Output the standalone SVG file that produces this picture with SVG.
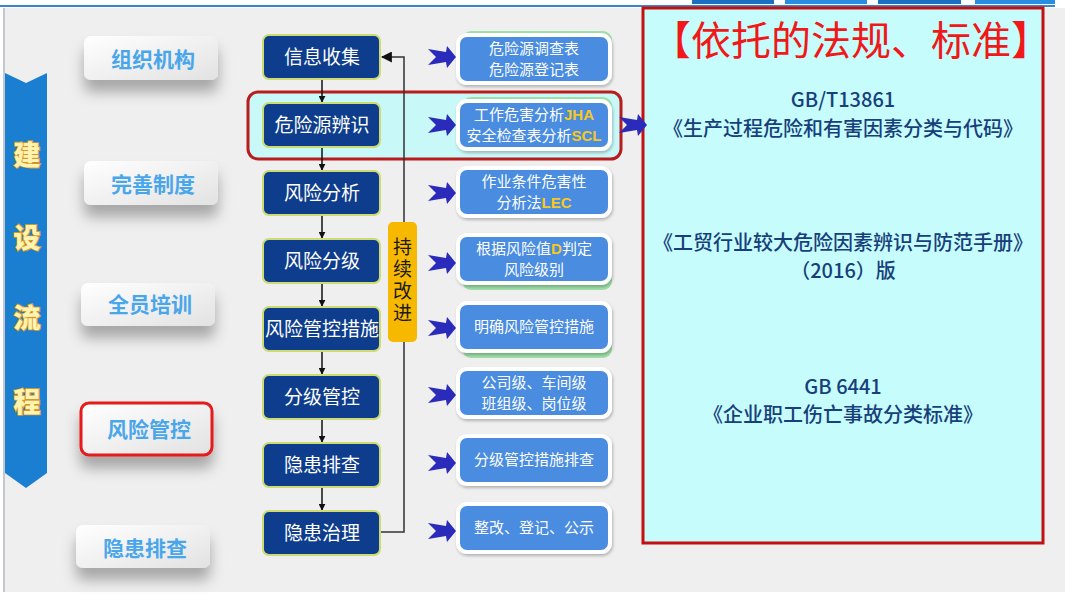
<svg xmlns="http://www.w3.org/2000/svg" width="1080" height="608" viewBox="0 0 1080 608">
<defs>
<style>
.lbtn{font-family:"Noto Sans CJK SC",sans-serif;font-weight:bold;font-size:21px;fill:#4aa6ea;text-anchor:middle}
.ban{font-family:"Noto Sans CJK SC",sans-serif;font-weight:900;font-size:27px;fill:#fff3b0;stroke:#d8962a;stroke-width:1.8;paint-order:stroke;text-anchor:middle}
.mbox{fill:#0d3d8c;stroke:#cddb72;stroke-width:2}
.mtxt{font-family:"Noto Sans CJK SC",sans-serif;font-size:19px;fill:#ffffff;text-anchor:middle}
.rbox{fill:#4a8ce0;stroke:#ffffff;stroke-width:4}
.rtxt{font-family:"Noto Sans CJK SC",sans-serif;font-size:15px;fill:#ffffff;text-anchor:middle}
.gold{fill:#f8c81c;font-family:"Liberation Sans",sans-serif;font-weight:bold}
.ptxt{font-family:"Noto Sans CJK SC",sans-serif;font-weight:500;font-size:20px;fill:#173f7a;text-anchor:middle}
.conn{stroke:#111;stroke-width:1.5;fill:none}
.chev{fill:#2b2bbb}
</style>
<linearGradient id="btnG" x1="0" y1="0" x2="1" y2="1">
<stop offset="0" stop-color="#ffffff"/>
<stop offset="1" stop-color="#e2e2e2"/>
</linearGradient>
<filter id="sh" x="-30%" y="-30%" width="160%" height="220%">
<feDropShadow dx="0" dy="12" stdDeviation="7" flood-color="#000" flood-opacity="0.3"/>
</filter>
<filter id="sh2" x="-10%" y="-10%" width="120%" height="130%">
<feDropShadow dx="1" dy="2" stdDeviation="1.5" flood-color="#000" flood-opacity="0.25"/>
</filter>
<marker id="ah" viewBox="0 0 10 10" refX="9" refY="5" markerWidth="7" markerHeight="7" orient="auto" markerUnits="userSpaceOnUse">
<path d="M0,0 L10,5 L0,10 Z" fill="#111"/>
</marker>
<marker id="ah2" viewBox="0 0 10 10" refX="9" refY="5" markerWidth="11" markerHeight="11" orient="auto" markerUnits="userSpaceOnUse">
<path d="M0,0 L10,5 L0,10 Z" fill="#111"/>
</marker>
<path id="chv" d="M0,-8 L18,-5 L19,-11 L28,0 L19,11 L18,5 L0,8 L8,0 Z"/>
</defs>

<rect x="0" y="0" width="1080" height="608" fill="#ffffff"/>
<rect x="5" y="8" width="1060" height="584" fill="#efefef"/>
<rect x="3" y="8" width="2" height="584" fill="#c4c6d0"/>
<rect x="0" y="5" width="1055" height="2" fill="#3a86c8"/>
<g fill="#1a6fc0">
<rect x="692" y="0" width="82" height="4"/>
<rect x="785" y="0" width="82" height="4" fill="#2a8ee0"/>
<rect x="878" y="0" width="83" height="4"/>
<rect x="975" y="0" width="80" height="4" fill="#2a8ee0"/>
</g>

<!-- left banner -->
<g id="banner">
<path d="M5,73 L26,83 L47,73 L47,473 L26,488 L5,473 Z" fill="#1a7fd0"/>
<text class="ban" x="27" y="165">建</text>
<text class="ban" x="27" y="248">设</text>
<text class="ban" x="27" y="328">流</text>
<text class="ban" x="27" y="412">程</text>
</g>

<!-- left buttons -->
<g id="btn-zzjg"><rect x="84" y="36" width="134" height="44" rx="7" fill="url(#btnG)" filter="url(#sh)"/><text class="lbtn" x="153" y="67">组织机构</text></g>
<g id="btn-wszd"><rect x="84" y="161" width="134" height="44" rx="7" fill="url(#btnG)" filter="url(#sh)"/><text class="lbtn" x="153" y="192">完善制度</text></g>
<g id="btn-qypx"><rect x="81" y="283" width="134" height="43" rx="7" fill="url(#btnG)" filter="url(#sh)"/><text class="lbtn" x="150" y="312">全员培训</text></g>
<g id="btn-fxgk"><rect x="81" y="403" width="131" height="52" rx="8" fill="url(#btnG)" stroke="#e41a1a" stroke-width="3" filter="url(#sh)"/><text class="lbtn" x="149" y="437">风险管控</text></g>
<g id="btn-yhpc"><rect x="76" y="525" width="134" height="43" rx="7" fill="url(#btnG)" filter="url(#sh)"/><text class="lbtn" x="145" y="556">隐患排查</text></g>

<!-- highlight row -->
<g id="highlight">
<rect x="248" y="92" width="373" height="67" rx="10" fill="#c8f8f8" stroke="#b81c1c" stroke-width="3"/>
</g>

<!-- right panel -->
<g id="panel">
<rect x="643" y="8" width="400" height="535" fill="#c6fcfc" stroke="#c41010" stroke-width="3"/>
<text x="851" y="55" font-family="Noto Sans CJK SC, sans-serif" font-size="40" fill="#f01818" text-anchor="middle">【依托的法规、标准】</text>
<text class="ptxt" x="843" y="107">GB/T13861</text>
<text class="ptxt" x="843" y="136">《生产过程危险和有害因素分类与代码》</text>
<text class="ptxt" x="843" y="250">《工贸行业较大危险因素辨识与防范手册》</text>
<text class="ptxt" x="843" y="278">（2016）版</text>
<text class="ptxt" x="843" y="394">GB 6441</text>
<text class="ptxt" x="843" y="422">《企业职工伤亡事故分类标准》</text>
</g>

<!-- connectors -->
<g id="connectors">
<line class="conn" x1="322" y1="79" x2="322" y2="102" marker-end="url(#ah)"/>
<line class="conn" x1="322" y1="147" x2="322" y2="170" marker-end="url(#ah)"/>
<line class="conn" x1="322" y1="215" x2="322" y2="238" marker-end="url(#ah)"/>
<line class="conn" x1="322" y1="283" x2="322" y2="306" marker-end="url(#ah)"/>
<line class="conn" x1="322" y1="351" x2="322" y2="374" marker-end="url(#ah)"/>
<line class="conn" x1="322" y1="419" x2="322" y2="442" marker-end="url(#ah)"/>
<line class="conn" x1="322" y1="487" x2="322" y2="510" marker-end="url(#ah)"/>
<polyline points="381,532 404,532 404,57 382,57" stroke="#333" stroke-width="1.5" fill="none" marker-end="url(#ah2)"/>
<g class="chev">
<use href="#chv" x="428" y="57"/>
<use href="#chv" x="428" y="125"/>
<use href="#chv" x="428" y="193"/>
<use href="#chv" x="428" y="263"/>
<use href="#chv" x="428" y="328"/>
<use href="#chv" x="428" y="395"/>
<use href="#chv" x="428" y="463"/>
<use href="#chv" x="428" y="531"/>
<use href="#chv" x="619" y="125"/>
</g>
</g>

<!-- continuous improvement -->
<g id="cxgj">
<rect x="388" y="222" width="29" height="120" rx="5" fill="#f7b800"/>
<text x="402.5" y="237" font-family="Noto Sans CJK SC, sans-serif" font-size="19" fill="#1a1a1a" writing-mode="vertical-rl" letter-spacing="3" style="writing-mode:vertical-rl">持续改进</text>
</g>

<!-- middle process boxes -->
<g id="m1"><rect class="mbox" x="263" y="35" width="117" height="44" rx="6"/><text class="mtxt" x="322" y="64">信息收集</text></g>
<g id="m2"><rect class="mbox" x="263" y="103" width="117" height="44" rx="6"/><text class="mtxt" x="322" y="132">危险源辨识</text></g>
<g id="m3"><rect class="mbox" x="263" y="171" width="117" height="44" rx="6"/><text class="mtxt" x="322" y="200">风险分析</text></g>
<g id="m4"><rect class="mbox" x="263" y="239" width="117" height="44" rx="6"/><text class="mtxt" x="322" y="268">风险分级</text></g>
<g id="m5"><rect class="mbox" x="263" y="307" width="117" height="44" rx="6"/><text class="mtxt" x="322" y="336">风险管控措施</text></g>
<g id="m6"><rect class="mbox" x="263" y="375" width="117" height="44" rx="6"/><text class="mtxt" x="322" y="404">分级管控</text></g>
<g id="m7"><rect class="mbox" x="263" y="443" width="117" height="44" rx="6"/><text class="mtxt" x="322" y="472">隐患排查</text></g>
<g id="m8"><rect class="mbox" x="263" y="511" width="117" height="44" rx="6"/><text class="mtxt" x="322" y="540">隐患治理</text></g>

<!-- right description boxes -->
<g id="r1"><rect x="462" y="31" width="150" height="50" rx="9" fill="#9ee0a8"/><rect class="rbox" x="458" y="35" width="152" height="48" rx="9" filter="url(#sh2)"/><text class="rtxt" x="534" y="54">危险源调查表</text><text class="rtxt" x="534" y="75">危险源登记表</text></g>
<g id="r2"><rect x="462" y="97" width="150" height="50" rx="9" fill="#9ee0a8"/><rect class="rbox" x="458" y="101" width="152" height="48" rx="9" filter="url(#sh2)"/><text class="rtxt" x="534" y="120">工作危害分析<tspan class="gold">JHA</tspan></text><text class="rtxt" x="534" y="141">安全检查表分析<tspan class="gold">SCL</tspan></text></g>
<g id="r3"><rect class="rbox" x="458" y="168" width="152" height="48" rx="9" filter="url(#sh2)"/><text class="rtxt" x="534" y="187">作业条件危害性</text><text class="rtxt" x="534" y="208">分析法<tspan class="gold">LEC</tspan></text></g>
<g id="r4"><rect x="462" y="240" width="150" height="50" rx="9" fill="#9ee0a8"/><rect class="rbox" x="458" y="235" width="152" height="48" rx="9" filter="url(#sh2)"/><text class="rtxt" x="534" y="254">根据风险值<tspan class="gold">D</tspan>判定</text><text class="rtxt" x="534" y="275">风险级别</text></g>
<g id="r5"><rect x="462" y="308" width="150" height="50" rx="9" fill="#9ee0a8"/><rect class="rbox" x="458" y="303" width="152" height="48" rx="9" filter="url(#sh2)"/><text class="rtxt" x="534" y="332">明确风险管控措施</text></g>
<g id="r6"><rect class="rbox" x="458" y="369" width="152" height="48" rx="9" filter="url(#sh2)"/><text class="rtxt" x="534" y="388">公司级、车间级</text><text class="rtxt" x="534" y="409">班组级、岗位级</text></g>
<g id="r7"><rect class="rbox" x="458" y="436" width="152" height="48" rx="9" filter="url(#sh2)"/><text class="rtxt" x="534" y="465">分级管控措施排查</text></g>
<g id="r8"><rect class="rbox" x="458" y="504" width="152" height="48" rx="9" filter="url(#sh2)"/><text class="rtxt" x="534" y="533">整改、登记、公示</text></g>
</svg>
